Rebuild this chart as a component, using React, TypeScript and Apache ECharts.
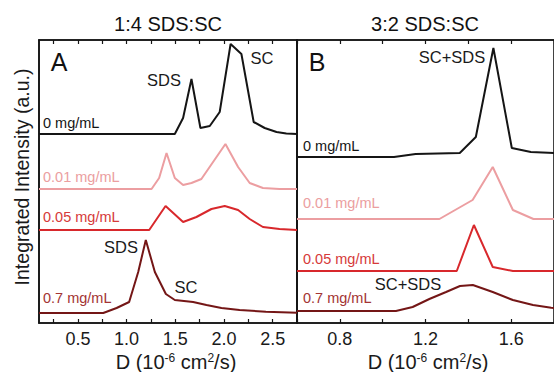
import React, { useEffect, useRef } from "react";
import * as echarts from "echarts";

// Panel A (1:4 SDS:SC): [D (1e-6 cm2/s), integrated intensity incl. stack offset (a.u.)]
const panelA_0: [number, number][] = [[0.1,189],[1.495,189],[1.58,205],[1.666,244],[1.758,195],[1.854,197],[1.956,211],[2.068,279],[2.179,269],[2.305,201],[2.418,195],[2.54,191],[2.64,189.5],[2.75,189]];
const panelA_001: [number, number][] = [[0.1,134],[1.256,134],[1.334,145],[1.41,170],[1.495,145],[1.58,138],[1.666,140],[1.768,144],[2.015,179],[2.145,156],[2.264,140],[2.4,135],[2.57,134],[2.75,134]];
const panelA_005: [number, number][] = [[0.1,93],[1.232,93],[1.40,117],[1.58,101],[1.717,106],[1.871,114],[2.008,117],[2.145,113],[2.264,104],[2.40,96],[2.57,94],[2.75,93]];
const panelA_07: [number, number][] = [[0.1,10],[0.76,10],[0.897,15],[1.026,21],[1.119,51],[1.197,83],[1.29,51],[1.403,29],[1.495,23],[1.683,21],[1.82,18],[1.974,15],[2.16,13],[2.43,11.3],[2.75,10.3]];

// Panel B (3:2 SDS:SC)
const panelB_0: [number, number][] = [[0.6,166],[1.053,166],[1.154,169],[1.36,170],[1.435,186],[1.517,275],[1.603,175],[1.692,171],[1.8,170]];
const panelB_001: [number, number][] = [[0.6,104],[1.265,104],[1.42,123],[1.514,156],[1.608,113],[1.704,104],[1.8,104]];
const panelB_005: [number, number][] = [[0.6,52],[1.346,52],[1.426,98],[1.514,56],[1.608,52],[1.8,52]];
const panelB_07: [number, number][] = [[0.6,12],[1.062,12],[1.14,16],[1.218,24],[1.296,31],[1.361,37],[1.421,38],[1.514,31],[1.608,23],[1.702,18],[1.787,15.3],[1.8,15]];

const concentrations = ["0 mg/mL", "0.01 mg/mL", "0.05 mg/mL", "0.7 mg/mL"];
const colors = ["#151515", "#ec9ea1", "#d8282c", "#741616"];
const labelColors = ["#151515", "#eb9ea0", "#d63a3a", "#a33434"];

const ticksA = [0.25, 0.5, 0.75, 1.0, 1.25, 1.5, 1.75, 2.0, 2.25, 2.5];
const labelsA = [0.5, 1.0, 1.5, 2.0, 2.5];
const labelsB = [0.8, 1.2, 1.6];

const FONT = "Liberation Sans, Arial, Helvetica, sans-serif";

export default function App() {
  const ref = useRef<HTMLDivElement>(null);
  useEffect(() => {
    if (!ref.current) return;
    const chart = echarts.init(ref.current, undefined, { renderer: "svg" });

    const tick = { show: true, inside: true, length: 4, lineStyle: { color: "#151515", width: 1.2 } };
    const axisLine = { show: true, lineStyle: { color: "#151515", width: 1.6 } };
    const lbl = { color: "#1a1a1a", fontSize: 18, fontFamily: FONT, margin: 7, formatter: (v: number) => v.toFixed(1) };

    const text = (t: string, x: number, y: number, size: number, fill: string, align = "left", extra: any = {}) => ({
      type: "text",
      x, y,
      silent: true,
      ...extra,
      style: { text: t, fill, font: `${size}px ${FONT}`, textAlign: align, textVerticalAlign: "middle", ...(extra.style || {}) },
    });

    const dataA = [panelA_0, panelA_001, panelA_005, panelA_07];
    const dataB = [panelB_0, panelB_001, panelB_005, panelB_07];

    const series: any[] = [];
    dataA.forEach((d, i) => series.push({ type: "line", name: "A " + concentrations[i], data: d, xAxisIndex: 0, yAxisIndex: 0, showSymbol: false, lineStyle: { color: colors[i], width: 2 }, itemStyle: { color: colors[i] } }));
    dataB.forEach((d, i) => series.push({ type: "line", name: "B " + concentrations[i], data: d, xAxisIndex: 2, yAxisIndex: 1, showSymbol: false, lineStyle: { color: colors[i], width: 2 }, itemStyle: { color: colors[i] } }));

    const dName = {
      type: "text",
      silent: true,
      style: {
        text: "D (10{s|-6} cm{s|2}/s)",
        font: `20px ${FONT}`,
        fill: "#1a1a1a",
        textAlign: "center",
        textVerticalAlign: "middle",
        rich: { s: { fontSize: 12, fontFamily: FONT, verticalAlign: "top", fill: "#1a1a1a" } },
      },
    };

    chart.setOption({
      animation: false,
      grid: [
        { left: 39, top: 40, width: 258, height: 283, show: true, borderColor: "#151515", borderWidth: 1.6 },
        { left: 297, top: 40, width: 260, height: 283, show: true, borderColor: "#151515", borderWidth: 1.6 },
      ],
      xAxis: [
        { type: "value", gridIndex: 0, min: 0.1, max: 2.75, position: "bottom", axisLine, splitLine: { show: false },
          axisTick: { ...tick, customValues: ticksA }, axisLabel: { ...lbl, customValues: labelsA } },
        { type: "value", gridIndex: 0, min: 0.1, max: 2.75, position: "top", axisLine, splitLine: { show: false },
          axisTick: { ...tick, customValues: ticksA }, axisLabel: { show: false } },
        { type: "value", gridIndex: 1, min: 0.6, max: 1.8, interval: 0.2, position: "bottom", axisLine, splitLine: { show: false },
          axisTick: tick, axisLabel: { ...lbl, customValues: labelsB } },
        { type: "value", gridIndex: 1, min: 0.6, max: 1.8, interval: 0.2, position: "top", axisLine, splitLine: { show: false },
          axisTick: tick, axisLabel: { show: false } },
      ],
      yAxis: [
        { type: "value", gridIndex: 0, min: 0, max: 283, axisLine, axisTick: { show: false }, axisLabel: { show: false }, splitLine: { show: false } },
        { type: "value", gridIndex: 1, min: 0, max: 283, axisLine, axisTick: { show: false }, axisLabel: { show: false }, splitLine: { show: false } },
      ],
      series,
      graphic: [
        text("1:4 SDS:SC", 168, 24, 20, "#111", "center"),
        text("3:2 SDS:SC", 425, 24, 20, "#111", "center"),
        text("Integrated Intensity (a.u.)", 22, 177, 19.5, "#1a1a1a", "center", { rotation: Math.PI / 2 }),
        { ...dName, x: 176, y: 362 },
        { ...dName, x: 428, y: 362 },
        text("A", 59, 62, 25, "#111", "center"),
        text("B", 317, 62, 25, "#111", "center"),
        // Panel A labels
        text(concentrations[0], 43, 123, 14.5, labelColors[0]),
        text(concentrations[1], 43, 177, 14.5, labelColors[1]),
        text(concentrations[2], 43, 217, 14.5, labelColors[2]),
        text(concentrations[3], 43, 298, 14.5, labelColors[3]),
        text("SDS", 164, 80, 16.5, "#1a1a1a", "center"),
        text("SC", 262, 58, 16.5, "#1a1a1a", "center"),
        text("SDS", 121, 247, 16.5, "#1a1a1a", "center"),
        text("SC", 186, 287, 16.5, "#1a1a1a", "center"),
        // Panel B labels
        text(concentrations[0], 303, 146, 14.5, labelColors[0]),
        text(concentrations[1], 303, 203, 14.5, labelColors[1]),
        text(concentrations[2], 303, 259, 14.5, labelColors[2]),
        text(concentrations[3], 303, 298, 14.5, labelColors[3]),
        text("SC+SDS", 452, 57, 16.5, "#1a1a1a", "center"),
        text("SC+SDS", 408, 284, 16.5, "#1a1a1a", "center"),
      ],
    });
    return () => chart.dispose();
  }, []);
  return <div ref={ref} style={{ position: "absolute", left: 0, top: 0, width: 554, height: 372 }} />;
}
